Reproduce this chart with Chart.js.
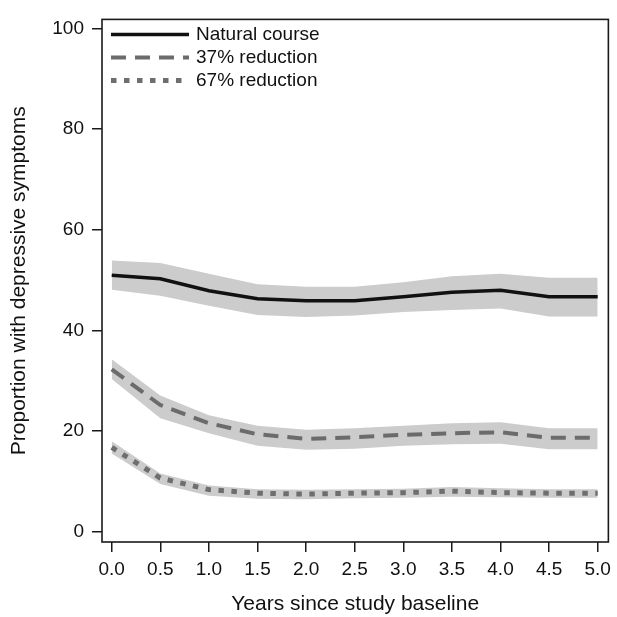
<!DOCTYPE html>
<html>
<head>
<meta charset="utf-8">
<script src="https://cdn.jsdelivr.net/npm/chart.js@4"></script>
<style>
    html, body { margin: 0; padding: 0; background: #fff; }
    #wrap { width: 617px; height: 617px; }
</style>
</head>
<body>
<div id="wrap"><canvas id="trendChart" width="617" height="617"></canvas></div>
<script>
const years = [0, 0.5, 1, 1.5, 2, 2.5, 3, 3.5, 4, 4.5, 5];
const xTicks = [0, 0.5, 1, 1.5, 2, 2.5, 3, 3.5, 4, 4.5, 5];
const yTicks = [0, 20, 40, 60, 80, 100];
const seriesNames = ['Natural course', '37% reduction', '67% reduction'];

const natural = [51.0, 50.3, 47.9, 46.3, 45.9, 45.9, 46.7, 47.6, 48.0, 46.7, 46.7];
const naturalUpper = [53.9, 53.4, 51.3, 49.2, 48.7, 48.7, 49.6, 50.8, 51.3, 50.5, 50.5];
const naturalLower = [48.1, 46.9, 44.9, 43.1, 42.7, 43.0, 43.7, 44.1, 44.4, 42.8, 42.8];

const reduction37 = [32.3, 25.2, 21.6, 19.4, 18.5, 18.8, 19.3, 19.6, 19.8, 18.7, 18.7];
const reduction37Upper = [34.3, 27.1, 23.2, 21.1, 20.3, 20.6, 21.1, 21.6, 21.8, 20.6, 20.6];
const reduction37Lower = [30.4, 22.6, 19.6, 17.1, 16.3, 16.5, 17.1, 17.4, 17.5, 16.4, 16.4];

const reduction67 = [16.8, 10.7, 8.4, 7.7, 7.5, 7.7, 7.8, 8.1, 7.8, 7.7, 7.7];
const reduction67Upper = [18.0, 11.6, 9.2, 8.5, 8.4, 8.5, 8.6, 8.9, 8.7, 8.5, 8.5];
const reduction67Lower = [15.6, 9.5, 7.2, 6.6, 6.5, 6.7, 6.8, 7.0, 6.9, 6.8, 6.8];

const BAND = '#cccccc';
const FONT = 'Liberation Sans, Arial, Helvetica, sans-serif';

function toPoints(values) {
    return years.map((x, i) => ({ x: x, y: values[i] }));
}

function band(values, fill) {
    return {
        data: toPoints(values),
        borderWidth: 0,
        pointRadius: 0,
        backgroundColor: BAND,
        fill: fill,
        order: 2,
        isBand: true
    };
}

function line(label, values, color, width, dash) {
    return {
        label: label,
        data: toPoints(values),
        borderColor: color,
        borderWidth: width,
        borderDash: dash,
        borderCapStyle: 'butt',
        pointRadius: 0,
        fill: false,
        tension: 0,
        order: 1
    };
}

// frame around the plot region, like the original
const framePlugin = {
    id: 'frame',
    afterDatasetsDraw(chart) {
        const a = chart.chartArea;
        const ctx = chart.ctx;
        ctx.save();
        ctx.strokeStyle = '#1a1a1a';
        ctx.lineWidth = 1.6;
        ctx.strokeRect(a.left, a.top, a.right - a.left, a.bottom - a.top);
        ctx.restore();
    }
};

// legend sits inside the plot, top left, no box
const insideLegend = {
    id: 'insideLegend',
    afterDraw(chart) {
        const a = chart.chartArea;
        const ctx = chart.ctx;
        const lines = chart.data.datasets.filter(d => !d.isBand);
        ctx.save();
        ctx.font = '19px ' + FONT;
        ctx.textBaseline = 'middle';
        ctx.fillStyle = '#111';
        lines.forEach((d, i) => {
            const y = a.top + 15 + i * 23;
            ctx.beginPath();
            ctx.strokeStyle = d.borderColor;
            ctx.lineWidth = d.borderWidth;
            ctx.setLineDash(d.borderDash || []);
            ctx.moveTo(a.left + 9, y);
            ctx.lineTo(a.left + 87, y);
            ctx.stroke();
            ctx.fillText(d.label, a.left + 94, y);
        });
        ctx.restore();
    }
};

const ctx = document.getElementById('trendChart');
new Chart(ctx, {
    type: 'line',
    data: {
        datasets: [
            band(naturalUpper, '+1'),
            band(naturalLower, false),
            band(reduction37Upper, '+1'),
            band(reduction37Lower, false),
            band(reduction67Upper, '+1'),
            band(reduction67Lower, false),
            line(seriesNames[0], natural, '#111111', 3.5, []),
            line(seriesNames[1], reduction37, '#6b6b6b', 4, [15, 9]),
            line(seriesNames[2], reduction67, '#6e6e6e', 5, [5.5, 7.5])
        ]
    },
    options: {
        responsive: false,
        animation: false,
        layout: { padding: { left: 0, top: 11, right: 5, bottom: 0 } },
        plugins: {
            legend: { display: false },
            tooltip: { enabled: false }
        },
        scales: {
            x: {
                type: 'linear',
                min: -0.1,
                max: 5.11,
                afterBuildTicks: scale => { scale.ticks = xTicks.map(v => ({ value: v })); },
                afterFit: scale => { scale.height = 75; },
                border: { display: false },
                grid: { drawOnChartArea: false, drawTicks: true, tickLength: 10, color: '#1a1a1a', lineWidth: 1.5 },
                ticks: {
                    color: '#111',
                    padding: 6,
                    maxRotation: 0,
                    autoSkip: false,
                    font: { family: FONT, size: 19 },
                    callback: v => v.toFixed(1)
                },
                title: {
                    display: true,
                    text: 'Years since study baseline',
                    color: '#111',
                    padding: { top: 0, bottom: 0 },
                    font: { family: FONT, size: 21 }
                }
            },
            y: {
                min: -2,
                max: 101.8,
                afterBuildTicks: scale => { scale.ticks = yTicks.map(v => ({ value: v })); },
                afterFit: scale => { scale.width = 102; },
                border: { display: false },
                grid: { drawOnChartArea: false, drawTicks: true, tickLength: 10, color: '#1a1a1a', lineWidth: 1.5 },
                ticks: {
                    color: '#111',
                    padding: 8,
                    font: { family: FONT, size: 19 }
                },
                title: {
                    display: true,
                    text: 'Proportion with depressive symptoms',
                    color: '#111',
                    padding: { top: 7, bottom: 0 },
                    font: { family: FONT, size: 21 }
                }
            }
        }
    },
    plugins: [framePlugin, insideLegend]
});
</script>
</body>
</html>
